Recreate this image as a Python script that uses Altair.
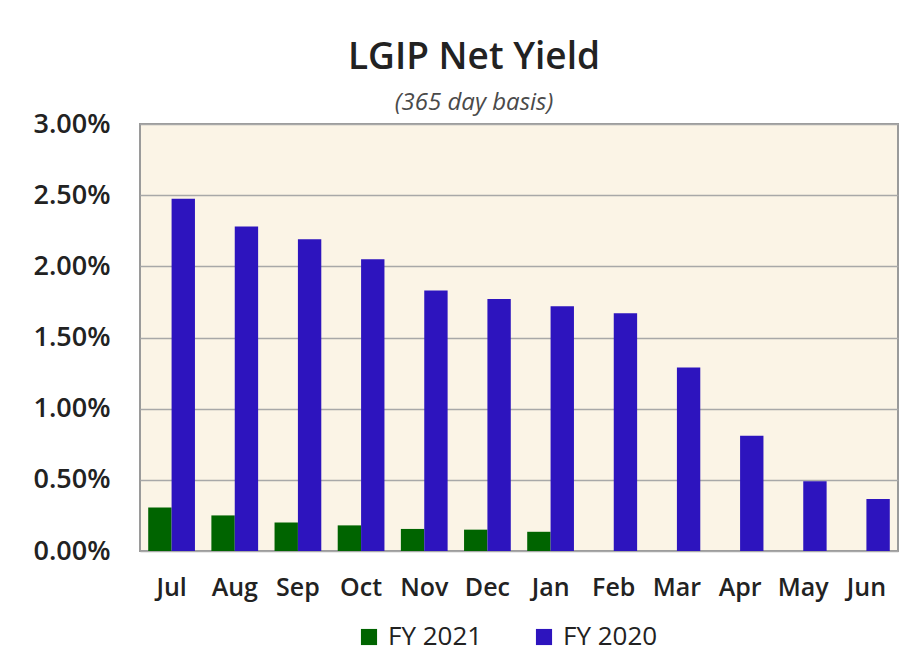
import altair as alt
import pandas as pd

months = ["Jul", "Aug", "Sep", "Oct", "Nov", "Dec", "Jan", "Feb", "Mar", "Apr", "May", "Jun"]
fy2021 = [0.305, 0.25, 0.20, 0.18, 0.155, 0.15, 0.135]
fy2020 = [2.475, 2.28, 2.19, 2.05, 1.83, 1.77, 1.72, 1.67, 1.29, 0.81, 0.49, 0.365]
series = ["FY 2021", "FY 2020"]
colors = ["#006400", "#2D14BE"]
y_ticks = [0, 0.5, 1.0, 1.5, 2.0, 2.5, 3.0]

rows = []
for m, v in zip(months, fy2021):
    rows.append({"month": m, "series": "FY 2021", "value": v / 100})
for m, v in zip(months, fy2020):
    rows.append({"month": m, "series": "FY 2020", "value": v / 100})
df = pd.DataFrame(rows)

FONT = "Open Sans"

bars = alt.Chart(df).mark_bar().encode(
    x=alt.X("month:N", sort=months, title=None,
            scale=alt.Scale(paddingInner=0.26, paddingOuter=0.13),
            axis=alt.Axis(labelAngle=0, labelFont=FONT, labelFontSize=25, labelFontWeight=600,
                          labelColor="#222222", labelPadding=24, ticks=False, domain=False)),
    xOffset=alt.XOffset("series:N", sort=series),
    y=alt.Y("value:Q", title=None,
            scale=alt.Scale(domain=[0, 0.03], nice=False),
            axis=alt.Axis(values=[t / 100 for t in y_ticks], format=".2%",
                          labelFont=FONT, labelFontSize=27, labelFontWeight=600,
                          labelColor="#222222", labelPadding=30, ticks=False, domain=False,
                          grid=True, gridColor="#A8A8A8", gridWidth=1.5)),
    color=alt.Color("series:N", sort=series,
                    scale=alt.Scale(domain=series, range=colors),
                    legend=alt.Legend(title=None, orient="none", direction="horizontal",
                                      legendX=216, legendY=500,
                                      symbolType="square", symbolSize=260, symbolStrokeWidth=0,
                                      labelFont=FONT, labelFontSize=26, labelFontWeight=500,
                                      labelColor="#222222", columnPadding=48, labelOffset=6)),
)

chart = bars.properties(
    width=758,
    height=427,
    title=alt.TitleParams(
        text="LGIP Net Yield",
        subtitle="(365 day basis)",
        font=FONT, fontSize=37, fontWeight=600, color="#222222",
        subtitleFont=FONT, subtitleFontSize=24, subtitleFontStyle="italic",
        subtitleColor="#4A4A4A", subtitlePadding=14,
        anchor="middle", dx=-45, offset=-6,
    ),
    autosize=alt.AutoSizeParams(type="none"),
    padding={"left": 132, "top": 116, "right": 7, "bottom": 113},
    background="white",
).configure_view(
    fill="#FBF4E6", stroke="#9A9A9A", strokeWidth=2
)

chart.save("out.html", embed_options={"renderer": "svg", "actions": False})
